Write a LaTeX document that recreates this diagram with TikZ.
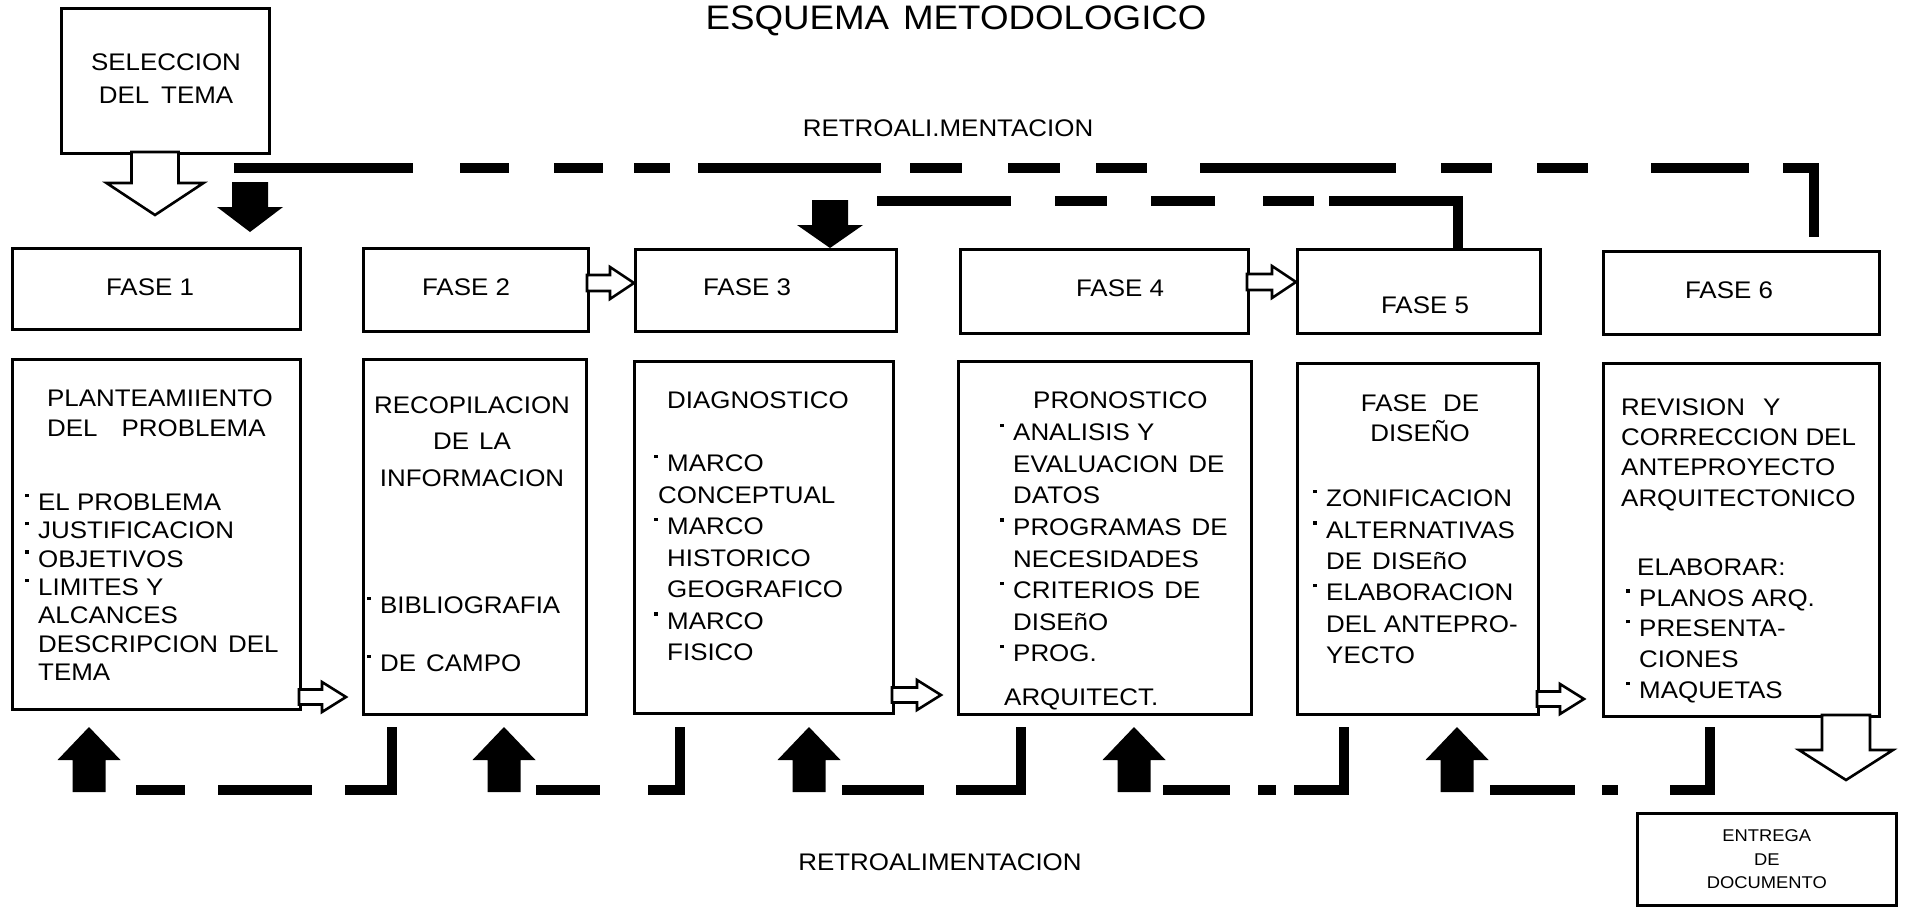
\documentclass[tikz,border=0pt]{standalone}
\usepackage{fontspec}
\setmainfont{Liberation Sans}[FakeStretch=1.08]
\usepackage{tikz}
\usetikzlibrary{positioning}
\tikzstyle{box} = [draw, line width=2.6pt, anchor=north west, inner sep=0pt]
\tikzstyle{txt} = [inner sep=0pt, anchor=north west, align=left]
\tikzstyle{lbl} = [inner sep=0pt, font=\fontsize{24}{30}\selectfont]
\tikzstyle{hollowarr} = [draw, line width=2.6pt, fill=white, line join=miter]
\tikzstyle{fillarr} = [fill=black]
\tikzstyle{fb} = [line width=10pt, line join=miter]
\newcommand{\itm}{\makebox[13pt][l]{\rule[13.5pt]{3.5pt}{3.5pt}}}
\newcommand{\skp}{\hspace*{13pt}}
% block arrow: style, tail, angle, length, head length, half shaft, half head
\newcommand{\blkarrow}[7]{%
  \path[#1, shift={#2}, rotate=#3] (0,-#6) -- (#4-#5,-#6) -- (#4-#5,-#7) -- (#4,0)
    -- (#4-#5,#7) -- (#4-#5,#6) -- (0,#6) -- cycle;}

\begin{document}
\begin{tikzpicture}[x=1pt, y=-1pt]
    \useasboundingbox (0,0) rectangle (1906,908);

    % Title
    \node[inner sep=0pt, anchor=base, font=\fontsize{34}{40}\selectfont] (title) at (956,29) {ESQUEMA\hspace{14pt}METODOLOGICO};

    % Selection of the theme
    \node[box, minimum width=208pt, minimum height=145pt] (sel) at (60,7) {};
    \node[lbl, align=center, font=\fontsize{24}{33}\selectfont] (selt) at (166,78.5) {SELECCION\\DEL\hspace{12pt}TEMA};

    % Phase boxes
    \node[box, minimum width=288pt, minimum height=81pt] (f1) at (11,247) {};
    \node[box, minimum width=225pt, minimum height=83pt] (f2) at (362,247) {};
    \node[box, minimum width=261pt, minimum height=82pt] (f3) at (634,248) {};
    \node[box, minimum width=288pt, minimum height=84pt] (f4) at (959,248) {};
    \node[box, minimum width=243pt, minimum height=84pt] (f5) at (1296,248) {};
    \node[box, minimum width=276pt, minimum height=83pt] (f6) at (1602,250) {};
    \node[lbl] (f1t) at (150,287) {FASE 1};
    \node[lbl] (f2t) at (466,287) {FASE 2};
    \node[lbl] (f3t) at (747,287) {FASE 3};
    \node[lbl] (f4t) at (1120,288) {FASE 4};
    \node[lbl] (f5t) at (1425,305) {FASE 5};
    \node[lbl] (f6t) at (1729,290) {FASE 6};

    % Content boxes
    \node[box, minimum width=288pt, minimum height=350pt] (c1) at (11,358) {};
    \node[box, minimum width=223pt, minimum height=355pt] (c2) at (362,358) {};
    \node[box, minimum width=259pt, minimum height=352pt] (c3) at (633,360) {};
    \node[box, minimum width=293pt, minimum height=353pt] (c4) at (957,360) {};
    \node[box, minimum width=241pt, minimum height=351pt] (c5) at (1296,362) {};
    \node[box, minimum width=276pt, minimum height=353pt] (c6) at (1602,362) {};

    % Phase 1
    \node[txt, font=\fontsize{24}{30}\selectfont] (c1t) at (47,389.4) {PLANTEAMIIENTO\\DEL\hspace{24pt}PROBLEMA};
    \node[txt, font=\fontsize{24}{28.3}\selectfont] (c1l) at (25,493.4)
        {\itm EL PROBLEMA\\\itm JUSTIFICACION\\\itm OBJETIVOS\\\itm LIMITES Y\\\skp ALCANCES\\\skp DESCRIPCION\hspace{10pt}DEL\\\skp TEMA};

    % Phase 2
    \node[txt, anchor=north, align=center, font=\fontsize{24}{36.5}\selectfont] (c2t) at (472,396.4) {RECOPILACION\\DE\hspace{10pt}LA\\INFORMACION};
    \node[txt, font=\fontsize{24}{58}\selectfont] (c2l) at (367,596.4) {\itm BIBLIOGRAFIA\\\itm DE\hspace{10pt}CAMPO};

    % Phase 3
    \node[txt, font=\fontsize{24}{30}\selectfont] (c3t) at (667,391.4) {DIAGNOSTICO};
    \node[txt, font=\fontsize{24}{31.5}\selectfont] (c3l) at (654,454.4)
        {\itm MARCO\\\hspace*{4pt}CONCEPTUAL\\\itm MARCO\\\skp HISTORICO\\\skp GEOGRAFICO\\\itm MARCO\\\skp FISICO};

    % Phase 4
    \node[txt, font=\fontsize{24}{30}\selectfont] (c4t) at (1033,391.4) {PRONOSTICO};
    \node[txt, font=\fontsize{24}{31.6}\selectfont] (c4l) at (1000,423.4)
        {\itm ANALISIS Y\\\skp EVALUACION\hspace{10pt}DE\\\skp DATOS\\\itm PROGRAMAS\hspace{10pt}DE\\\skp NECESIDADES\\\itm CRITERIOS\hspace{10pt}DE\\\skp DISEñO\\\itm PROG.\\[12pt]\hspace*{4pt}ARQUITECT.};

    % Phase 5
    \node[txt, anchor=north, align=center, font=\fontsize{24}{30}\selectfont] (c5t) at (1420,394.4) {FASE\hspace{16pt}DE\\DISEÑO};
    \node[txt, font=\fontsize{24}{31.4}\selectfont] (c5l) at (1313,489.4)
        {\itm ZONIFICACION\\\itm ALTERNATIVAS\\\skp DE\hspace{10pt}DISEñO\\\itm ELABORACION\\\skp DEL ANTEPRO-\\\skp YECTO};

    % Phase 6
    \node[txt, font=\fontsize{24}{30.3}\selectfont] (c6t) at (1621,398.4) {REVISION\hspace{18pt}Y\\CORRECCION DEL\\ANTEPROYECTO\\ARQUITECTONICO};
    \node[txt, font=\fontsize{24}{30.8}\selectfont] (c6l) at (1626,558.4)
        {\hspace*{11pt}ELABORAR:\\\itm PLANOS ARQ.\\\itm PRESENTA-\\\skp CIONES\\\itm MAQUETAS};

    % Delivery
    \node[box, minimum width=259pt, minimum height=92pt] (ent) at (1636,812) {};
    \node[lbl, align=center, font=\fontsize{17}{23.5}\selectfont] (entt) at (ent.center) {ENTREGA\\DE\\DOCUMENTO};

    % Feedback labels
    \node[lbl] (rtop) at (948,128) {RETROALI.MENTACION};
    \node[lbl] (rbot) at (940,862) {RETROALIMENTACION};

    % Top feedback lines
    \foreach \a/\b in {234/413, 460/509, 554/603, 634/670, 698/881, 910/962, 1008/1060, 1096/1147, 1200/1396, 1441/1492, 1537/1588, 1651/1749}
        \draw[fb] (\a,168) -- (\b,168);
    \draw[fb] (1783,168) -- (1814,168) -- (1814,237);
    \foreach \a/\b in {877/1011, 1055/1107, 1151/1215, 1263/1314}
        \draw[fb] (\a,201) -- (\b,201);
    \draw[fb] (1329,201) -- (1458,201) -- (1458,248);

    % Bottom feedback lines
    \foreach \a/\b in {136/185, 218/312, 536/600, 842/924, 1163/1230, 1258/1276, 1490/1575, 1602/1618}
        \draw[fb] (\a,790) -- (\b,790);
    \foreach \a/\b in {345/392, 648/680, 956/1021, 1294/1344, 1670/1710}
        \draw[fb] (\a,790) -- (\b,790) -- (\b,727);

    % Block arrows
    \blkarrow{hollowarr}{(155,152)}{-90}{63}{32}{23.5}{48.5}
    \blkarrow{fillarr}{(250,182)}{-90}{50}{25}{18}{33}
    \blkarrow{fillarr}{(830,200)}{-90}{48}{23}{18}{33}
    \blkarrow{hollowarr}{(587,283)}{0}{47}{24}{8}{16}
    \blkarrow{hollowarr}{(1247,282)}{0}{49}{24}{8}{16}
    \blkarrow{hollowarr}{(299,697)}{0}{47}{24}{7.5}{15}
    \blkarrow{hollowarr}{(892,695)}{0}{49}{24}{7.5}{15}
    \blkarrow{hollowarr}{(1537,699)}{0}{47}{24}{7.5}{15}
    \blkarrow{hollowarr}{(1846,715)}{-90}{65}{30}{24}{47}
    \foreach \x in {89, 504, 809, 1134, 1457}
        {\blkarrow{fillarr}{(\x,792)}{90}{65}{33}{16.5}{31.5}}

\end{tikzpicture}
\end{document}
